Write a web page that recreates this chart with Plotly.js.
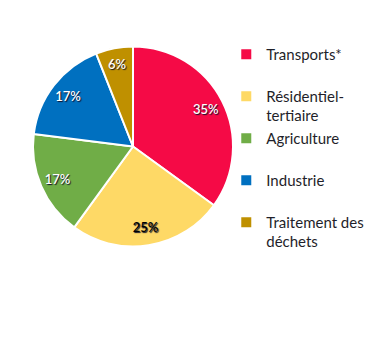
<!DOCTYPE html>
<html><head><meta charset="utf-8">
<script src="https://cdn.plot.ly/plotly-3.0.1.min.js"></script>
<style>html,body{margin:0;padding:0;background:#fff;}#c{width:374px;height:361px;}</style>
</head><body><div id="c"></div>
<script>
const categories = ["Transports*", "Résidentiel-<br>tertiaire", "Agriculture", "Industrie", "Traitement des<br>déchets"];
const legendPad = ["<br> ", "", "<br> ", "<br> ", ""];
const values = [35, 25, 17, 17, 6];
const colors = ["#F50A46", "#FED966", "#70AD47", "#0070C0", "#BF9000"];
const labelColors = ["#ffffff", "#000000", "#ffffff", "#ffffff", "#ffffff"];

const legendLabels = categories.map((c, i) => c + legendPad[i]);
const dom = {x: [33/374, 233/374], y: [114/361, 315/361]};

// colored pie with borders and legend
const pieTrace = {
  type: "pie",
  labels: legendLabels,
  values: values,
  sort: false,
  direction: "clockwise",
  rotation: 0,
  marker: {colors: colors, line: {color: "#ffffff", width: 2}},
  textinfo: "none",
  hoverinfo: "label+percent",
  domain: dom
};
// transparent ring overlay carrying the percentage labels near the rim
const labelTrace = {
  type: "pie",
  labels: legendLabels,
  values: values,
  sort: false,
  direction: "clockwise",
  rotation: 0,
  hole: 0.64,
  showlegend: false,
  marker: {colors: values.map(() => "rgba(0,0,0,0)"), line: {width: 0}},
  texttemplate: "%{percent:.0%}",
  textposition: "inside",
  insidetextorientation: "horizontal",
  textfont: {family: "Lato", size: 13, weight: 600, color: labelColors, shadow: "1px 1px 1px #10102a"},
  hoverinfo: "skip",
  domain: dom
};

const layout = {
  width: 374, height: 361,
  margin: {l: 0, r: 0, t: 0, b: 0, autoexpand: false},
  paper_bgcolor: "#ffffff",
  showlegend: true,
  legend: {x: 0.605, y: 0.895, xanchor: "left", yanchor: "top", valign: "top",
    font: {family: "Lato", size: 15, color: "#1f1f2a"}, itemwidth: 30, bgcolor: "rgba(0,0,0,0)"}
};
Plotly.newPlot("c", [pieTrace, labelTrace], layout, {displayModeBar: false, staticPlot: true});
</script></body></html>
